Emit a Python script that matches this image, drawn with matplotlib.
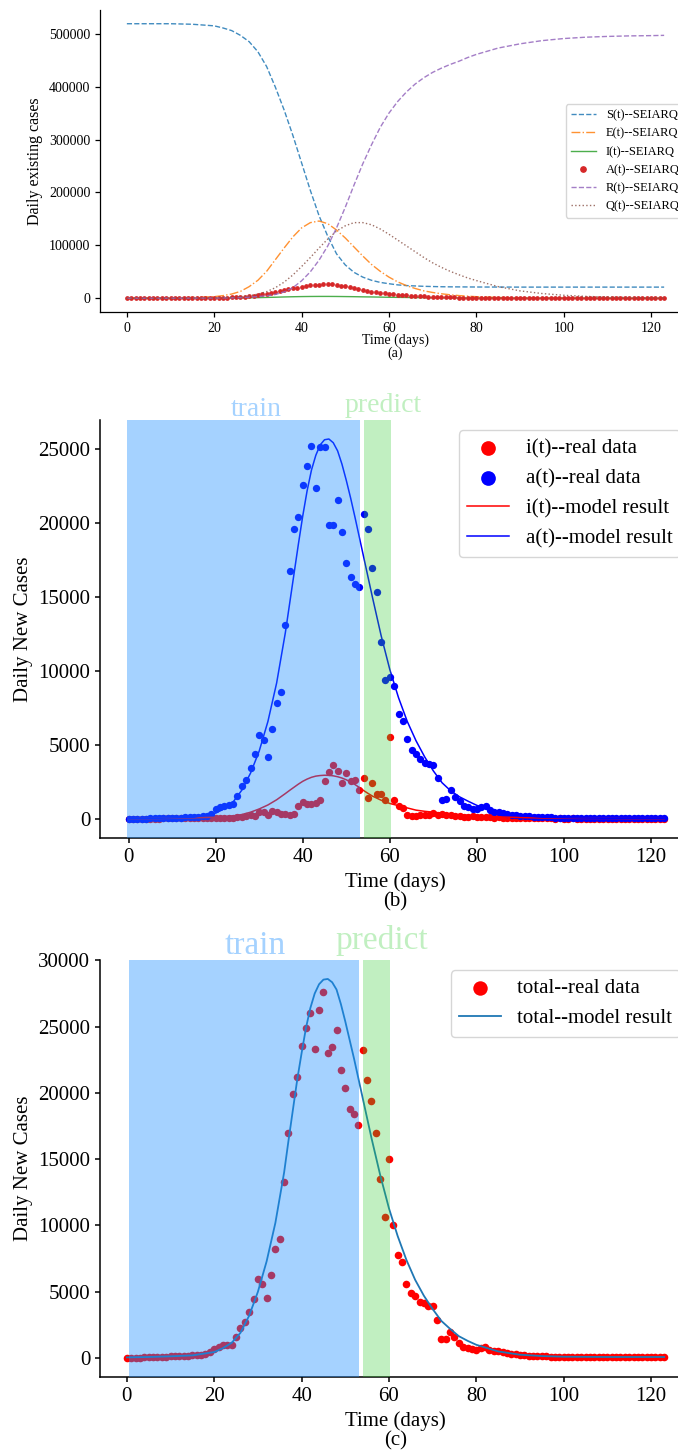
import matplotlib

matplotlib.use("Agg")
import matplotlib.pyplot as plt

plt.rcParams["font.family"] = ["Liberation Serif", "DejaVu Serif"]

FIG_W, FIG_H = 678, 1452

DAYS = list(range(124))

# SEIARQ model curves are sampled on this day grid (values in thousands)
MODEL_DAYS = [0, 5, 10, 15, 20, 22, 24, 26, 28, 30, 32, 34, 36, 38, 40, 42, 44, 46, 48, 50,
              52, 54, 56, 58, 60, 62, 64, 66, 68, 70, 72, 74, 76, 78, 80,
              85, 90, 95, 100, 105, 110, 115, 120, 123]

# panel (a): SEIARQ compartments
S_K = [519, 519, 519, 518, 515, 511, 506, 497, 485, 466, 438, 399, 356, 308, 256, 204, 156, 117,
       84, 63, 49, 40, 34, 30, 27.5, 25.3, 24, 23.3, 22.6, 22.2, 21.8, 21.6, 21.5, 21.4, 21.3,
       21.2, 21.1, 21.1, 21.1, 21.1, 21.1, 21.1, 21.1, 21.1]
E_K = [0.3, 0.5, 0.9, 1.6, 3.1, 5, 8, 13, 22, 34, 51, 73, 95, 116, 133, 143, 146, 141, 129, 114,
       97, 80, 64, 51, 40, 31, 24, 18.5, 14, 11, 8.5, 6.6, 5.1, 4, 3,
       1.5, 0.8, 0.4, 0.2, 0.1, 0.05, 0.03, 0.02, 0.01]
I_K = [0, 0.02, 0.05, 0.1, 0.2, 0.3, 0.45, 0.65, 0.9, 1.2, 1.6, 2.0, 2.5, 2.9, 3.2, 3.4, 3.5, 3.5,
       3.4, 3.2, 3.0, 2.7, 2.5, 2.2, 1.9, 1.7, 1.5, 1.3, 1.1, 0.95, 0.8, 0.7, 0.6, 0.5, 0.45,
       0.3, 0.2, 0.12, 0.08, 0.05, 0.03, 0.02, 0.01, 0.01]
R_K = [0, 0.05, 0.1, 0.2, 0.4, 0.6, 0.9, 1.3, 2.0, 3.2, 4.8, 7.2, 12, 20, 33, 50, 72, 99, 133, 172,
       214, 254, 290, 323, 350, 372, 390, 405, 417, 427, 435, 442, 448, 455, 461,
       473, 481, 487, 491, 493.5, 495, 496, 496.5, 497]
Q_K = [0, 0.02, 0.1, 0.3, 0.8, 1.2, 1.9, 2.9, 4.6, 7.8, 12.5, 20, 30.5, 44, 60, 77, 95, 112, 127, 137,
       143, 143, 139, 131, 121, 110, 99, 88, 77, 67, 58.5, 51, 44.5, 38.5, 33.5,
       22, 14, 9, 5.7, 3.6, 2.3, 1.4, 0.9, 0.7]
# A(t) is drawn as one dot per day
A_K = [0.05, 0.05, 0.06, 0.07, 0.08, 0.09, 0.1, 0.11, 0.12, 0.14, 0.16, 0.18, 0.2, 0.23, 0.27,
       0.31, 0.36, 0.42, 0.5, 0.6,
       0.72, 0.88, 1.08, 1.33, 1.65, 2.05, 2.5, 3.0,
       3.9, 5.0, 6.2, 7.4, 8.8, 10.4, 12.1, 13.9, 15.6, 17.2, 18.8, 20.3, 21.7, 23.0, 24.2, 25.2,
       25.9, 26.4, 26.6,
       26.3, 25.4, 24.0, 22.4, 20.6, 18.9, 17.2, 15.6, 14.1, 12.8, 11.5, 10.3, 9.2, 8.2, 7.3, 6.5,
       5.9, 5.3, 4.8, 4.3, 3.9, 3.5, 3.1, 2.7, 2.4, 2.2, 2.0, 1.8, 1.6, 1.4, 1.25, 1.1, 1.0, 0.9,
       0.8, 0.72, 0.64, 0.57, 0.5, 0.45, 0.4, 0.35, 0.31, 0.28, 0.25, 0.22, 0.2, 0.18, 0.16, 0.14,
       0.12, 0.11, 0.1, 0.09, 0.08, 0.07, 0.06, 0.06, 0.05, 0.05, 0.04, 0.04, 0.04, 0.03, 0.03,
       0.03, 0.03, 0.02, 0.02, 0.02, 0.02, 0.02, 0.02, 0.01, 0.01, 0.01, 0.01]

# fitted daily-new curves of (b) and (c) use a finer grid around the peak
FIT_DAYS = [0, 5, 10, 15, 20, 22, 24, 26, 28, 30, 32, 34, 36, 37, 38, 39, 40, 41, 42, 43, 44, 45,
            46, 47, 48, 49, 50, 51, 52, 53, 54, 55, 56, 58, 60, 62, 64, 66, 68, 70, 72, 74, 76,
            78, 80, 85, 90, 95, 100, 105, 110, 115, 120, 123]

# panel (b): daily new symptomatic i(t) and asymptomatic a(t)
I_DATA = [0, 10, 10, 20, 20, 20, 30, 30, 40, 40, 50, 50, 60, 60, 70, 70, 80, 80, 90,
          60, 90, 100, 80, 60, 90, 110, 130, 180, 250, 200, 450, 500, 270, 550, 500, 340, 340,
          300, 340,
          870, 1140, 1030, 1030, 1100, 1260, 2560, 3200, 3620, 3240, 2440, 3080, 2560, 2630,
          1940, 2740, 1420, 2460, 1720, 1660, 1260, 5520, 1260, 850, 720, 280,
          220, 230, 240, 280, 270, 420, 270, 330, 280, 260, 170, 200, 130, 160, 170, 120, 140,
          130, 110, 100, 110, 90, 80, 90, 70, 60,
          60, 50, 50, 40, 50, 40, 40, 30, 40, 30, 30, 40, 30, 30, 20, 30, 30, 20, 20, 30,
          20, 20, 20, 30, 20, 20, 20, 20, 10, 20, 20, 10, 20]
A_DATA = [0, 10, 15, 20, 30, 40, 40, 50, 60, 70, 80, 90, 100, 110, 120, 140, 160, 180, 200,
          360, 650, 810, 900, 970, 1000, 1580, 2250, 2650, 3440, 4390, 5690, 5310, 4190, 6100,
          7830, 8620, 13100, 16760, 19640,
          20430, 22600, 23900, 25200, 22400, 25150, 25150, 19850, 19900, 21600, 19400, 17300,
          16400, 15900, 15700, 20630, 19640, 16990, 15340, 12000, 9400, 9590, 8970, 7120, 6620,
          5430,
          4700, 4400, 4050, 3800, 3700, 3650, 2780, 1300, 1350, 1950, 1520, 1200, 900, 780, 700,
          680, 800, 850, 580, 500, 450, 400, 340, 300, 260, 220,
          200, 180, 160, 150, 130, 120, 110, 100, 90, 80, 80, 70, 70, 60, 60, 60, 50, 50, 50, 50,
          50, 40, 40, 40, 40, 40, 40, 40, 40, 40, 40, 40, 40]
I_MODEL_K = [0.02, 0.03, 0.05, 0.08, 0.12, 0.16, 0.21, 0.3, 0.46, 0.68, 0.95, 1.3, 1.72, 1.94,
             2.15, 2.36, 2.55, 2.7, 2.82, 2.9, 2.94, 2.96, 2.95, 2.92, 2.86, 2.77, 2.65, 2.5,
             2.33, 2.13, 1.92, 1.73, 1.55, 1.27, 1.05, 0.9, 0.75, 0.6, 0.52, 0.46, 0.39, 0.33,
             0.28, 0.24, 0.21, 0.14, 0.1, 0.07, 0.05, 0.04, 0.04, 0.03, 0.03, 0.03]
A_MODEL_K = [0.02, 0.04, 0.07, 0.12, 0.4, 0.7, 1.15, 1.95, 3.1, 4.6, 6.6, 9.2, 12.6, 14.6, 16.6,
             18.6, 20.5, 22.2, 23.6, 24.6, 25.3, 25.65, 25.7, 25.45, 24.9, 24.0, 22.9, 21.7,
             20.4, 19.05, 17.7, 16.35, 15.0, 12.4, 10.1, 8.2, 6.6, 5.3, 4.2, 3.25, 2.45, 1.9,
             1.5, 1.2, 0.92, 0.45, 0.22, 0.12, 0.08, 0.06, 0.05, 0.05, 0.05, 0.05]

# panel (c): total daily new cases
TOTAL_DATA = [0, 20, 25, 40, 50, 60, 70, 80, 100, 110, 130, 140, 160, 170, 190, 210, 240, 260,
              290,
              420, 700, 850, 950, 950, 1000, 1580, 2250, 2700, 3450, 4450, 6000, 5620, 4500,
              6250, 8200, 9000, 13270, 17000, 19920,
              21170, 23550, 24870, 26050, 23300, 26250, 27620, 23000, 23450, 24750, 21750,
              20370, 18820, 18420, 17570, 23270, 21000, 19400, 16950, 13520, 10620, 15000,
              10000, 7810, 7230, 5550,
              4940, 4660, 4210, 4190, 3960, 3910, 2900, 1400, 1400, 2000, 1620, 1170, 815, 790,
              715, 640, 790, 815, 600, 540, 500, 450, 380, 330, 290, 250,
              220, 190, 170, 150, 130, 120, 110, 100, 90, 80, 80, 70, 70, 60, 60, 60, 60, 50,
              50, 50, 50, 50, 50, 50, 50, 50, 50, 50, 50, 50, 50, 50, 50]
TOTAL_MODEL_K = [0.05, 0.08, 0.13, 0.2, 0.45, 0.75, 1.15, 1.9, 3.2, 5.0, 7.3, 10.2, 14.0, 16.4,
                 18.7, 21.0, 23.0, 24.9, 26.4, 27.5, 28.2, 28.55, 28.6, 28.35, 27.8, 26.7, 25.4,
                 24.0, 22.6, 21.1, 19.6, 18.1, 16.6, 13.8, 11.3, 9.2, 7.4, 5.9, 4.7, 3.7, 2.8,
                 2.2, 1.65, 1.3, 1.0, 0.5, 0.25, 0.15, 0.1, 0.09, 0.08, 0.08, 0.08, 0.08]

TRAIN_SPAN_B = (-0.4, 53.2)
TRAIN_SPAN_C = (0.4, 53.2)
PREDICT_SPAN = (54.1, 60.3)


def k(values):
    return [v * 1000 for v in values]


def place(fig, left, top, right, bottom):
    # pixel box -> figure fraction (the axes run a bit past the right edge, as in the source)
    return fig.add_axes([left / FIG_W, 1 - bottom / FIG_H,
                         (right - left) / FIG_W, (bottom - top) / FIG_H])


def style_axes(ax, tick_size, spine_lw):
    for side in ("top", "right"):
        ax.spines[side].set_visible(False)
    for side in ("left", "bottom"):
        ax.spines[side].set_linewidth(spine_lw)
    ax.tick_params(labelsize=tick_size, width=spine_lw)


def add_spans(ax, train_span, text_size, train_y, predict_y):
    ax.axvspan(*train_span, color="dodgerblue", alpha=0.4, lw=0, zorder=3)
    ax.axvspan(*PREDICT_SPAN, color="limegreen", alpha=0.3, lw=0, zorder=3)
    trans = ax.get_xaxis_transform()
    ax.text(29.3, train_y, "train", transform=trans, ha="center", va="baseline",
            fontsize=text_size, color="dodgerblue", alpha=0.4)
    ax.text(58.4, predict_y, "predict", transform=trans, ha="center", va="baseline",
            fontsize=text_size, color="limegreen", alpha=0.3)


fig = plt.figure(figsize=(FIG_W / 100, FIG_H / 100), dpi=100)

# (a)
ax = place(fig, 100, 10, 691, 312)
ax.plot(MODEL_DAYS, k(S_K), "--", color="#1f77b4", lw=1, alpha=0.85, label="S(t)--SEIARQ")
ax.plot(MODEL_DAYS, k(E_K), "-.", color="#ff7f0e", lw=1, alpha=0.85, label="E(t)--SEIARQ")
ax.plot(MODEL_DAYS, k(I_K), "-", color="#2ca02c", lw=1, alpha=0.85, label="I(t)--SEIARQ")
ax.plot(DAYS, k(A_K), "o", ls="none", color="#d62728", ms=2.4, label="A(t)--SEIARQ")
ax.plot(MODEL_DAYS, k(R_K), "--", color="#9467bd", lw=1, alpha=0.85, label="R(t)--SEIARQ")
ax.plot(MODEL_DAYS, k(Q_K), ":", color="#8c564b", lw=1, alpha=0.85, label="Q(t)--SEIARQ")
style_axes(ax, 10, 0.9)
ax.set_ylabel("Daily existing cases", fontsize=11.5)
ax.set_xlabel("Time (days)\n(a)", fontsize=10, linespacing=1.0, labelpad=-1)
ax.legend(loc="center right", fontsize=9, markerscale=1.6)

# (b)
ax = place(fig, 100, 420, 691, 838)
ax.scatter(DAYS, I_DATA, s=28, color="red", linewidths=0, label="i(t)--real data")
ax.scatter(DAYS, A_DATA, s=28, color="blue", linewidths=0, label="a(t)--real data")
ax.plot(FIT_DAYS, k(I_MODEL_K), color="red", lw=1.1, label="i(t)--model result")
ax.plot(FIT_DAYS, k(A_MODEL_K), color="blue", lw=1.1, label="a(t)--model result")
add_spans(ax, TRAIN_SPAN_B, 20, 1.0105, 1.02)
style_axes(ax, 15, 1.1)
ax.set_ylabel("Daily New Cases", fontsize=15)
ax.set_xlabel("Time (days)\n(b)", fontsize=15, linespacing=1.0)
ax.legend(loc="upper right", fontsize=15, markerscale=2.0)

# (c)
ax = place(fig, 100, 960, 691, 1377)
ax.scatter(DAYS, TOTAL_DATA, s=30, color="red", linewidths=0, label="total--real data")
ax.plot(FIT_DAYS, k(TOTAL_MODEL_K), color="#1f77b4", lw=1.3, label="total--model result")
add_spans(ax, TRAIN_SPAN_C, 24, 1.014, 1.026)
style_axes(ax, 15, 1.1)
ax.set_ylabel("Daily New Cases", fontsize=15)
ax.set_xlabel("Time (days)\n(c)", fontsize=15, linespacing=1.0)
ax.legend(loc="upper right", fontsize=15, markerscale=1.9)

fig.savefig("out.png", dpi=100)
